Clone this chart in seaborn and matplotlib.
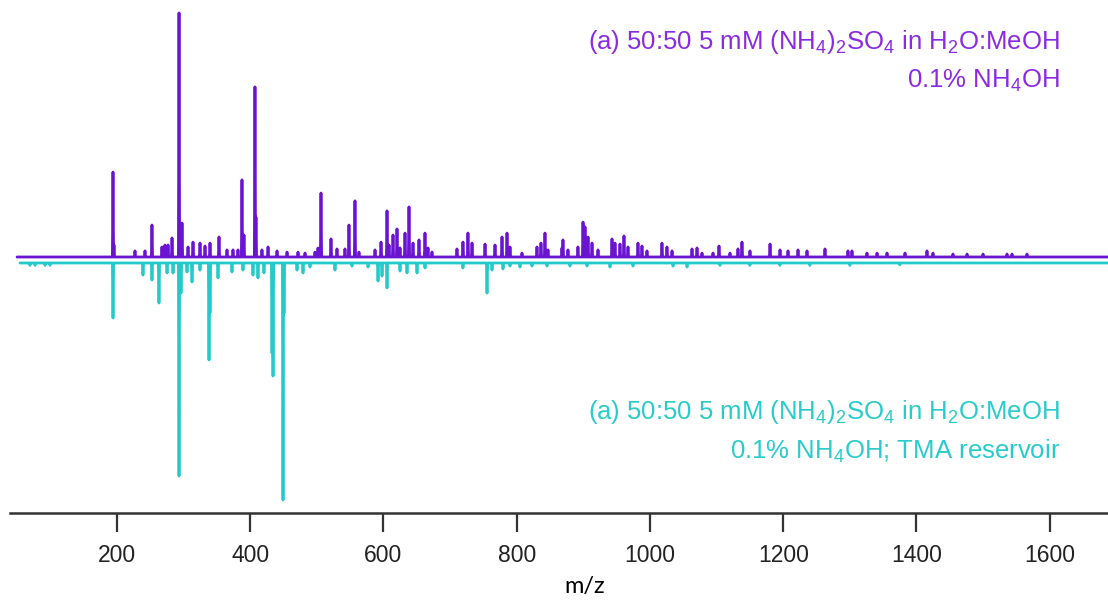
import numpy as np
import pandas as pd
import matplotlib
matplotlib.use("Agg")
import matplotlib.pyplot as plt
import seaborn as sns

# ---- data: purple spectrum (top), m/z and relative intensity (%)
top_mz = [194.0, 195.5, 227.0, 242.0, 252.5, 267.5, 272.0, 276.6, 282.6, 293.1,
          297.6, 306.6, 314.1, 324.6, 332.1, 339.6, 353.1, 365.1, 374.1, 381.6,
          387.6, 390.6, 407.1, 408.6, 417.6, 426.7, 440.2, 455.2, 471.7, 482.2,
          497.2, 501.7, 506.2, 521.2, 530.2, 542.2, 548.2, 557.2, 563.2, 587.3,
          596.3, 605.3, 608.3, 614.3, 620.3, 624.8, 632.3, 638.3, 644.3, 653.3,
          662.3, 666.8, 672.8, 710.3, 719.3, 726.8, 732.9, 752.4, 767.4, 777.9,
          785.4, 789.9, 807.9, 830.4, 836.4, 842.4, 846.9, 867.9, 869.4, 876.9,
          891.9, 899.5, 902.5, 907.0, 913.0, 922.0, 943.0, 947.5, 955.0, 961.0,
          967.0, 982.0, 988.0, 995.5, 1018.0, 1025.5, 1033.1, 1063.1, 1070.6, 1078.1,
          1094.6, 1103.6, 1120.1, 1132.1, 1138.1, 1150.1, 1180.2, 1195.2, 1207.2, 1222.2,
          1235.7, 1262.7, 1297.2, 1303.2, 1325.7, 1340.8, 1355.8, 1382.8, 1415.8, 1424.8,
          1454.8, 1475.9, 1499.9, 1535.9, 1543.4, 1565.9]
top_int = [34.8, 4.9, 2.5, 2.5, 13.1, 4.1, 4.9, 4.9, 7.8, 100.0,
           13.9, 4.1, 6.1, 5.7, 4.5, 5.7, 8.2, 2.9, 2.9, 2.9,
           31.6, 9.0, 69.7, 16.4, 2.9, 4.1, 2.5, 2.0, 2.0, 1.6,
           2.0, 3.7, 26.2, 7.4, 3.3, 3.3, 13.1, 23.0, 2.0, 2.9,
           6.1, 18.9, 4.9, 9.0, 11.5, 3.7, 9.8, 20.5, 5.7, 7.0,
           9.8, 3.7, 2.0, 3.3, 6.1, 9.8, 5.7, 5.3, 4.9, 8.2,
           9.8, 4.1, 1.6, 4.1, 5.7, 9.8, 2.9, 3.7, 7.0, 2.9,
           4.1, 14.3, 12.3, 8.2, 5.7, 2.9, 7.4, 5.7, 5.3, 8.6,
           4.1, 5.7, 4.5, 2.5, 5.7, 4.1, 2.5, 3.3, 3.7, 1.6,
           1.6, 4.5, 1.6, 3.3, 6.1, 2.5, 5.3, 2.9, 2.5, 2.9,
           2.5, 3.3, 2.5, 2.5, 1.6, 1.6, 1.6, 1.6, 2.5, 1.6,
           1.2, 1.2, 1.2, 1.2, 1.2, 1.2]

# ---- data: cyan spectrum (bottom, mirrored), m/z and relative intensity (%)
bot_mz = [69.4, 77.0, 92.0, 99.4, 194.0, 239.0, 252.5, 263.0, 275.1, 284.1,
          293.1, 296.1, 305.1, 312.6, 324.6, 338.1, 339.6, 351.6, 372.6, 389.1,
          404.1, 411.6, 420.6, 432.7, 434.2, 449.2, 450.7, 470.2, 479.2, 489.7,
          527.2, 552.7, 576.8, 591.8, 597.8, 605.3, 624.8, 635.3, 650.3, 662.3,
          719.3, 755.4, 762.9, 779.4, 789.9, 804.9, 822.9, 845.4, 879.9, 905.5,
          940.0, 974.5, 1034.6, 1055.6, 1105.0, 1150.0, 1195.0, 1240.0, 1300.0, 1375.0]
bot_int = [1.0, 1.0, 1.0, 1.0, 23.2, 5.1, 7.2, 16.9, 4.2, 4.2,
           89.9, 12.7, 3.8, 8.0, 3.0, 40.9, 21.1, 6.3, 3.8, 3.0,
           5.1, 6.3, 4.2, 38.0, 47.7, 100.0, 21.1, 3.0, 4.2, 1.7,
           3.0, 1.3, 1.7, 7.6, 5.5, 10.5, 3.4, 4.2, 4.2, 2.1,
           2.1, 12.7, 3.0, 2.5, 1.3, 1.7, 1.3, 1.3, 1.3, 1.3,
           1.7, 1.3, 1.3, 1.7, 1.0, 1.0, 1.0, 1.0, 1.0, 0.8]

xticks = [200, 400, 600, 800, 1000, 1200, 1400, 1600]
top_label = [r"(a) 50:50 5 mM (NH$_4$)$_2$SO$_4$ in H$_2$O:MeOH", r"0.1% NH$_4$OH"]
bot_label = [r"(a) 50:50 5 mM (NH$_4$)$_2$SO$_4$ in H$_2$O:MeOH", r"0.1% NH$_4$OH; TMA reservoir"]

PURPLE = "#6A14D2"
PURPLE_TXT = "#8A2BE2"
CYAN = "#22CACA"
CYAN_TXT = "#2ACBCB"

sns.set_style("white")
plt.rcParams["font.family"] = ["Liberation Sans", "DejaVu Sans"]
plt.rcParams["mathtext.fontset"] = "custom"
plt.rcParams["mathtext.rm"] = "Liberation Sans"
plt.rcParams["mathtext.it"] = "Liberation Sans:italic"
plt.rcParams["mathtext.bf"] = "Liberation Sans:bold"


def profile(mz, inten, start, end, scale=1.0, offset=0.0, hw=0.9):
    xs, ys = [start], [offset]
    for m, v in sorted(zip(mz, inten)):
        xs += [m - hw, m, m + hw]
        ys += [offset, offset + scale * v, offset]
    xs.append(end)
    ys.append(offset)
    return pd.DataFrame({"mz": xs, "y": ys})


XMIN, XMAX = 39.4, 1687.5
top_df = profile(top_mz, top_int, 50.0, XMAX + 5)
bot_df = profile(bot_mz, bot_int, 54.4, XMAX + 5, scale=-0.971, offset=-2.46)

fig = plt.figure(figsize=(11.08, 6.0), dpi=100)
ax = fig.add_axes([10 / 1108, 87 / 600, 1098 / 1108, 513 / 600])

sns.lineplot(data=bot_df, x="mz", y="y", sort=False, estimator=None,
             color=CYAN, lw=2.0, ax=ax)
sns.lineplot(data=top_df, x="mz", y="y", sort=False, estimator=None,
             color=PURPLE, lw=2.0, ax=ax)

ax.set_xlim(XMIN, XMAX)
ax.set_ylim(-104.9, 105.3)
ax.set_xticks(xticks)
ax.set_xticklabels([str(t) for t in xticks])
ax.set_yticks([])
ax.set_xlabel("")
ax.set_ylabel("")
for s in ["top", "left", "right"]:
    ax.spines[s].set_visible(False)
ax.spines["bottom"].set_color("#333333")
ax.spines["bottom"].set_linewidth(1.8)
ax.tick_params(axis="x", direction="out", length=14, width=1.6, color="#333333",
               pad=8, labelsize=16.5, labelcolor="#222222", bottom=True)
ax.patch.set_alpha(0)

# annotations
fs = 18.5
fig.text(1060 / 1108, 1 - 42 / 600, top_label[0], ha="right", va="center",
         color=PURPLE_TXT, fontsize=fs)
fig.text(1060 / 1108, 1 - 81 / 600, top_label[1], ha="right", va="center",
         color=PURPLE_TXT, fontsize=fs)
fig.text(1060 / 1108, 1 - 412 / 600, bot_label[0], ha="right", va="center",
         color=CYAN_TXT, fontsize=fs)
fig.text(1060 / 1108, 1 - 451 / 600, bot_label[1], ha="right", va="center",
         color=CYAN_TXT, fontsize=fs)

fig.text(585 / 1108, 1 - 586 / 600, "m/z", ha="center", va="center",
         color="black", fontsize=17, family=["Lato", "DejaVu Sans"])

fig.savefig("out.png", dpi=100)
